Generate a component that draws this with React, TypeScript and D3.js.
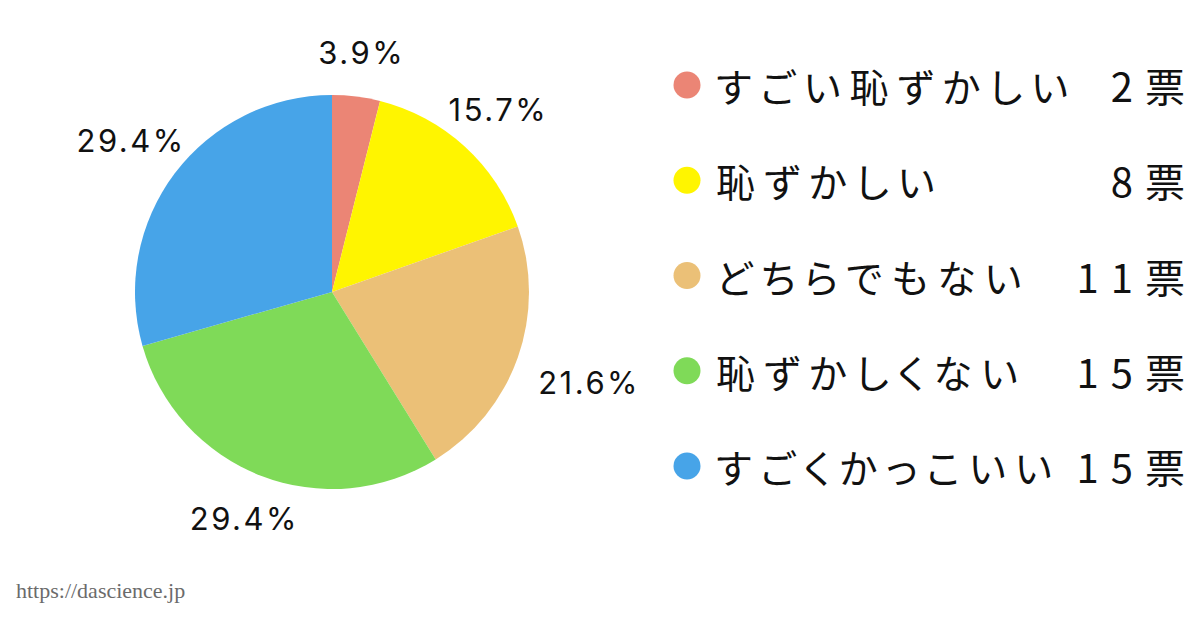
import React, { useRef, useEffect } from 'react';
import * as d3 from 'd3';

const categories = ['すごい恥ずかしい', '恥ずかしい', 'どちらでもない', '恥ずかしくない', 'すごくかっこいい'];
const votes = [2, 8, 11, 15, 15];
const voteUnit = '票';
const colors = ['#EB8575', '#FFF500', '#EBC077', '#7FDA58', '#47A4E8'];

const width = 1200;
const height = 630;

const App: React.FC = () => {
  const svgRef = useRef<SVGSVGElement>(null);

  useEffect(() => {
    if (!svgRef.current) return;
    const svg = d3.select(svgRef.current);
    svg.selectAll('*').remove();

    const cx = 332;
    const cy = 292;
    const radius = 197;
    const total = d3.sum(votes);

    const pie = d3.pie<number>().sort(null).value(d => d);
    const arcs = pie(votes);
    const arc = d3.arc<d3.PieArcDatum<number>>().innerRadius(0).outerRadius(radius);

    const g = svg.append('g').attr('transform', `translate(${cx},${cy})`);

    g.selectAll('path')
      .data(arcs)
      .join('path')
      .attr('d', arc)
      .attr('fill', (_, i) => colors[i]);

    // percentage labels placed outside, pushed out by their own box
    const labelR = 226;
    const fontSize = 31;
    arcs.forEach(a => {
      const mid = (a.startAngle + a.endAngle) / 2;
      const dx = Math.sin(mid);
      const dy = -Math.cos(mid);
      const txt = d3.format('.1%')(a.data / total);
      const t = g.append('text')
        .attr('text-anchor', 'middle')
        .attr('dominant-baseline', 'central')
        .style('font-family', 'Inter, "Noto Sans", sans-serif')
        .style('font-size', `${fontSize}px`)
        .style('letter-spacing', '2.5px')
        .style('fill', '#111')
        .text(txt);
      const w = (t.node() as SVGTextElement).getComputedTextLength();
      const hw = w / 2;
      const hh = fontSize / 2;
      const k = Math.min(Math.abs(dx) > 1e-6 ? hw / Math.abs(dx) : Infinity, Math.abs(dy) > 1e-6 ? hh / Math.abs(dy) : Infinity);
      t.attr('x', dx * (labelR + k)).attr('y', dy * (labelR + k));
    });

    // legend
    const legendY = d3.scalePoint<number>()
      .domain(d3.range(categories.length))
      .range([85, 466]);
    const lg = svg.append('g');
    const rows = lg.selectAll('g.row')
      .data(categories)
      .join('g')
      .attr('class', 'row')
      .attr('transform', (_, i) => `translate(0,${legendY(i)})`);

    const jp = '"Noto Sans CJK JP", sans-serif';

    rows.append('circle')
      .attr('cx', 687)
      .attr('cy', 0)
      .attr('r', 13.5)
      .attr('fill', (_, i) => colors[i]);

    rows.append('text')
      .attr('x', 716)
      .attr('y', 0)
      .attr('dominant-baseline', 'central')
      .style('font-family', jp)
      .style('font-size', '39px')
      .style('font-feature-settings', '"palt"')
      .style('letter-spacing', '9px')
      .style('fill', '#111')
      .text(d => d);

    // vote count + unit in one text
    const vt = rows.append('text')
      .attr('x', 1185)
      .attr('y', 0)
      .attr('text-anchor', 'end')
      .attr('dominant-baseline', 'central')
      .style('font-family', jp)
      .style('font-size', '40px')
      .style('fill', '#111');
    vt.append('tspan')
      .style('letter-spacing', '12px')
      .text((_, i) => String(votes[i]));
    vt.append('tspan')
      .text(voteUnit);

    // watermark
    svg.append('text')
      .attr('x', 16)
      .attr('y', 598)
      .style('font-family', '"Liberation Serif", serif')
      .style('font-size', '22px')
      .style('fill', '#6b6b6b')
      .text('https://dascience.jp');
  }, []);

  return (
    <svg
      ref={svgRef}
      width={width}
      height={height}
      style={{ position: 'absolute', left: 0, top: 0, background: '#fff' }}
    />
  );
};

export default App;
